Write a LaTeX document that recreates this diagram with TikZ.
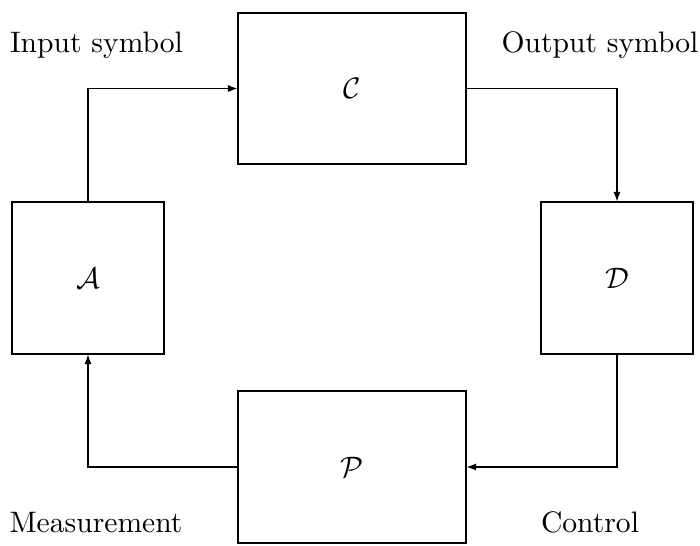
\documentclass[tikz,border=0pt]{standalone}
\usetikzlibrary{arrows.meta}
\begin{document}
\begin{tikzpicture}[x=0.3378pt,y=-0.3378pt,
  blk/.style={draw,line width=0.4pt,inner sep=0pt},
  lbl/.style={anchor=base,inner sep=0pt},
  conn/.style={line width=0.4pt,-{Latex[length=3.2pt,width=2.4pt]}}]
\useasboundingbox (0,0) rectangle (700,546);
\node[blk,minimum width=228*0.3378pt,minimum height=151*0.3378pt] (C) at (352,88.5) {$\mathcal{C}$};
\node[blk,minimum width=152*0.3378pt,minimum height=152*0.3378pt] (A) at (88,278) {$\mathcal{A}$};
\node[blk,minimum width=152*0.3378pt,minimum height=152*0.3378pt] (D) at (617,278) {$\mathcal{D}$};
\node[blk,minimum width=228*0.3378pt,minimum height=152*0.3378pt] (P) at (352,467) {$\mathcal{P}$};
\node[lbl] (l1) at (96.5,52) {Input symbol};
\node[lbl] (l2) at (600,52) {Output symbol};
\node[lbl] (l3) at (96,532) {Measurement};
\node[lbl] (l4) at (590,532) {Control};
\draw[conn] (A.north) |- (C.west);
\draw[conn] (C.east) -| (D.north);
\draw[conn] (D.south) |- (P.east);
\draw[conn] (P.west) -| (A.south);
\end{tikzpicture}
\end{document}
